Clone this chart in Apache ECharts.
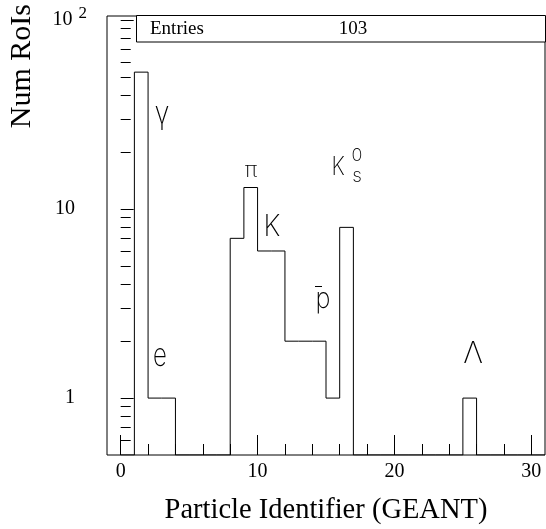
<!DOCTYPE html>
<html><head><meta charset="utf-8">
<script src="https://cdn.jsdelivr.net/npm/echarts@6/dist/echarts.min.js"></script>
<style>html,body{margin:0;padding:0;background:#fff}#c{width:546px;height:529px}</style>
</head><body><div id="c"></div>
<script>
// ---- data ----
const particleIds = [0,1,2,3,4,5,6,7,8,9,10,11,12,13,14,15,16,17,18,19,20,21,22,23,24,25,26,27,28,29,30];
const counts      = [0,53,1,1,0,0,0,0,7,13,6,6,2,2,2,1,8,0,0,0,0,0,0,0,0,1,0,0,0,0,0];
const entries = 103;
const xMajorTicks = [0,10,20,30];
const xMinorTicks = [2,4,6,8,12,14,16,18,22,24,26,28];
const yMajorTicks = [1,10,100];
const yMinorTicks = [0.6,0.7,0.8,0.9,2,3,4,5,6,7,8,9,20,30,40,50,60,70,80,90];
const xRange = [-1,31];
const yRange = [0.5,105];

// build step outline points (empty bins drop to the axis floor)
const pts = particleIds.map((id,i)=>[id, counts[i] > 0 ? counts[i] : yRange[0]]);
pts.push([particleIds[particleIds.length-1]+1, yRange[0]]);

const chart = echarts.init(document.getElementById('c'), null, {renderer:'canvas'});
const serif = 'Liberation Serif';
const thin = 'Inter';
const tickStyle = {color:'#000', width:1};

function xAx(ticks, len, labels){
  return {type:'value', min:xRange[0], max:xRange[1], position:'bottom',
    axisLine:{show:false}, splitLine:{show:false},
    axisTick:{show:true, inside:true, length:len, customValues:ticks, lineStyle:tickStyle},
    axisLabel: labels ? {show:true, customValues:ticks, fontFamily:serif, fontSize:20, color:'#000', margin:7}
                      : {show:false}};
}
function yAx(ticks, len, labels){
  return {type:'log', logBase:10, min:yRange[0], max:yRange[1], position:'left',
    axisLine:{show:false}, splitLine:{show:false}, minorTick:{show:false},
    axisTick:{show:true, inside:true, length:len, customValues:ticks, lineStyle:tickStyle},
    axisLabel: labels ? {show:true, customValues:ticks, margin:20,
      formatter: v => { const r = Math.round(v); return r >= 100 ? '{b|10}{s|2}' : '{n|'+r+'}'; },
      rich:{
        b:{fontFamily:serif, fontSize:20, color:'#000'},
        s:{fontFamily:serif, fontSize:17, color:'#000', padding:[0,0,12,6]},
        n:{fontFamily:serif, fontSize:20, color:'#000', padding:[0,12,0,0]}
      }} : {show:false}};
}

function txt(text, x, y, size, opts){
  opts = opts || {};
  return {type:'text', x:x, y:y, scaleX:opts.sx||1, scaleY:opts.sy||1, rotation:opts.rot||0, z:100,
    style:{text:text, fontFamily:opts.font||thin, fontSize:size, fontWeight:opts.weight||200,
      fill:'#000', align:opts.align||'center', verticalAlign:opts.va||'middle'}};
}

chart.setOption({
  animation:false,
  backgroundColor:'#fff',
  grid:{left:107, right:1, top:16, bottom:74, show:true, borderColor:'#000', borderWidth:1, backgroundColor:'transparent'},
  xAxis:[xAx(xMajorTicks,20,true), xAx(xMinorTicks,11,false)],
  yAxis:[yAx(yMajorTicks,13,true), yAx(yMinorTicks,10,false)],
  series:[{
    type:'line', step:'end', symbol:'none', clip:true, xAxisIndex:0, yAxisIndex:0,
    data:pts, lineStyle:{color:'#000', width:1}
  }],
  graphic:[
    {type:'rect', shape:{x:136.5, y:15.5, width:409, height:26.5}, style:{fill:'#fff', stroke:'#000', lineWidth:1}, z:90},
    txt('Entries', 150, 29, 19, {font:serif, weight:'normal', align:'left'}),
    txt(String(entries), 353, 29, 19, {font:serif, weight:'normal'}),
    txt('Particle Identifier (GEANT)', 326, 511, 28.5, {font:serif, weight:'normal'}),
    txt('Num RoIs', 22, 4, 30, {font:serif, weight:'normal', align:'right', rot:Math.PI/2}),
    txt('γ', 162, 114, 32, {sx:0.85}),
    txt('e', 160, 356, 32, {sx:0.75}),
    txt('π', 251, 171, 21, {sx:1.05}),
    txt('K', 272, 227, 30, {sx:0.9}),
    txt('K', 338, 167, 25, {sx:0.85}),
    txt('0', 357, 156, 18),
    txt('s', 357, 176, 19),
    txt('p', 323, 300, 28, {sx:0.9}),
    {type:'line', shape:{x1:315, y1:286.5, x2:322, y2:286.5}, style:{stroke:'#000', lineWidth:1}, z:100},
    txt('Λ', 473, 354, 30, {sx:1})
  ]
});
</script>
</body></html>
